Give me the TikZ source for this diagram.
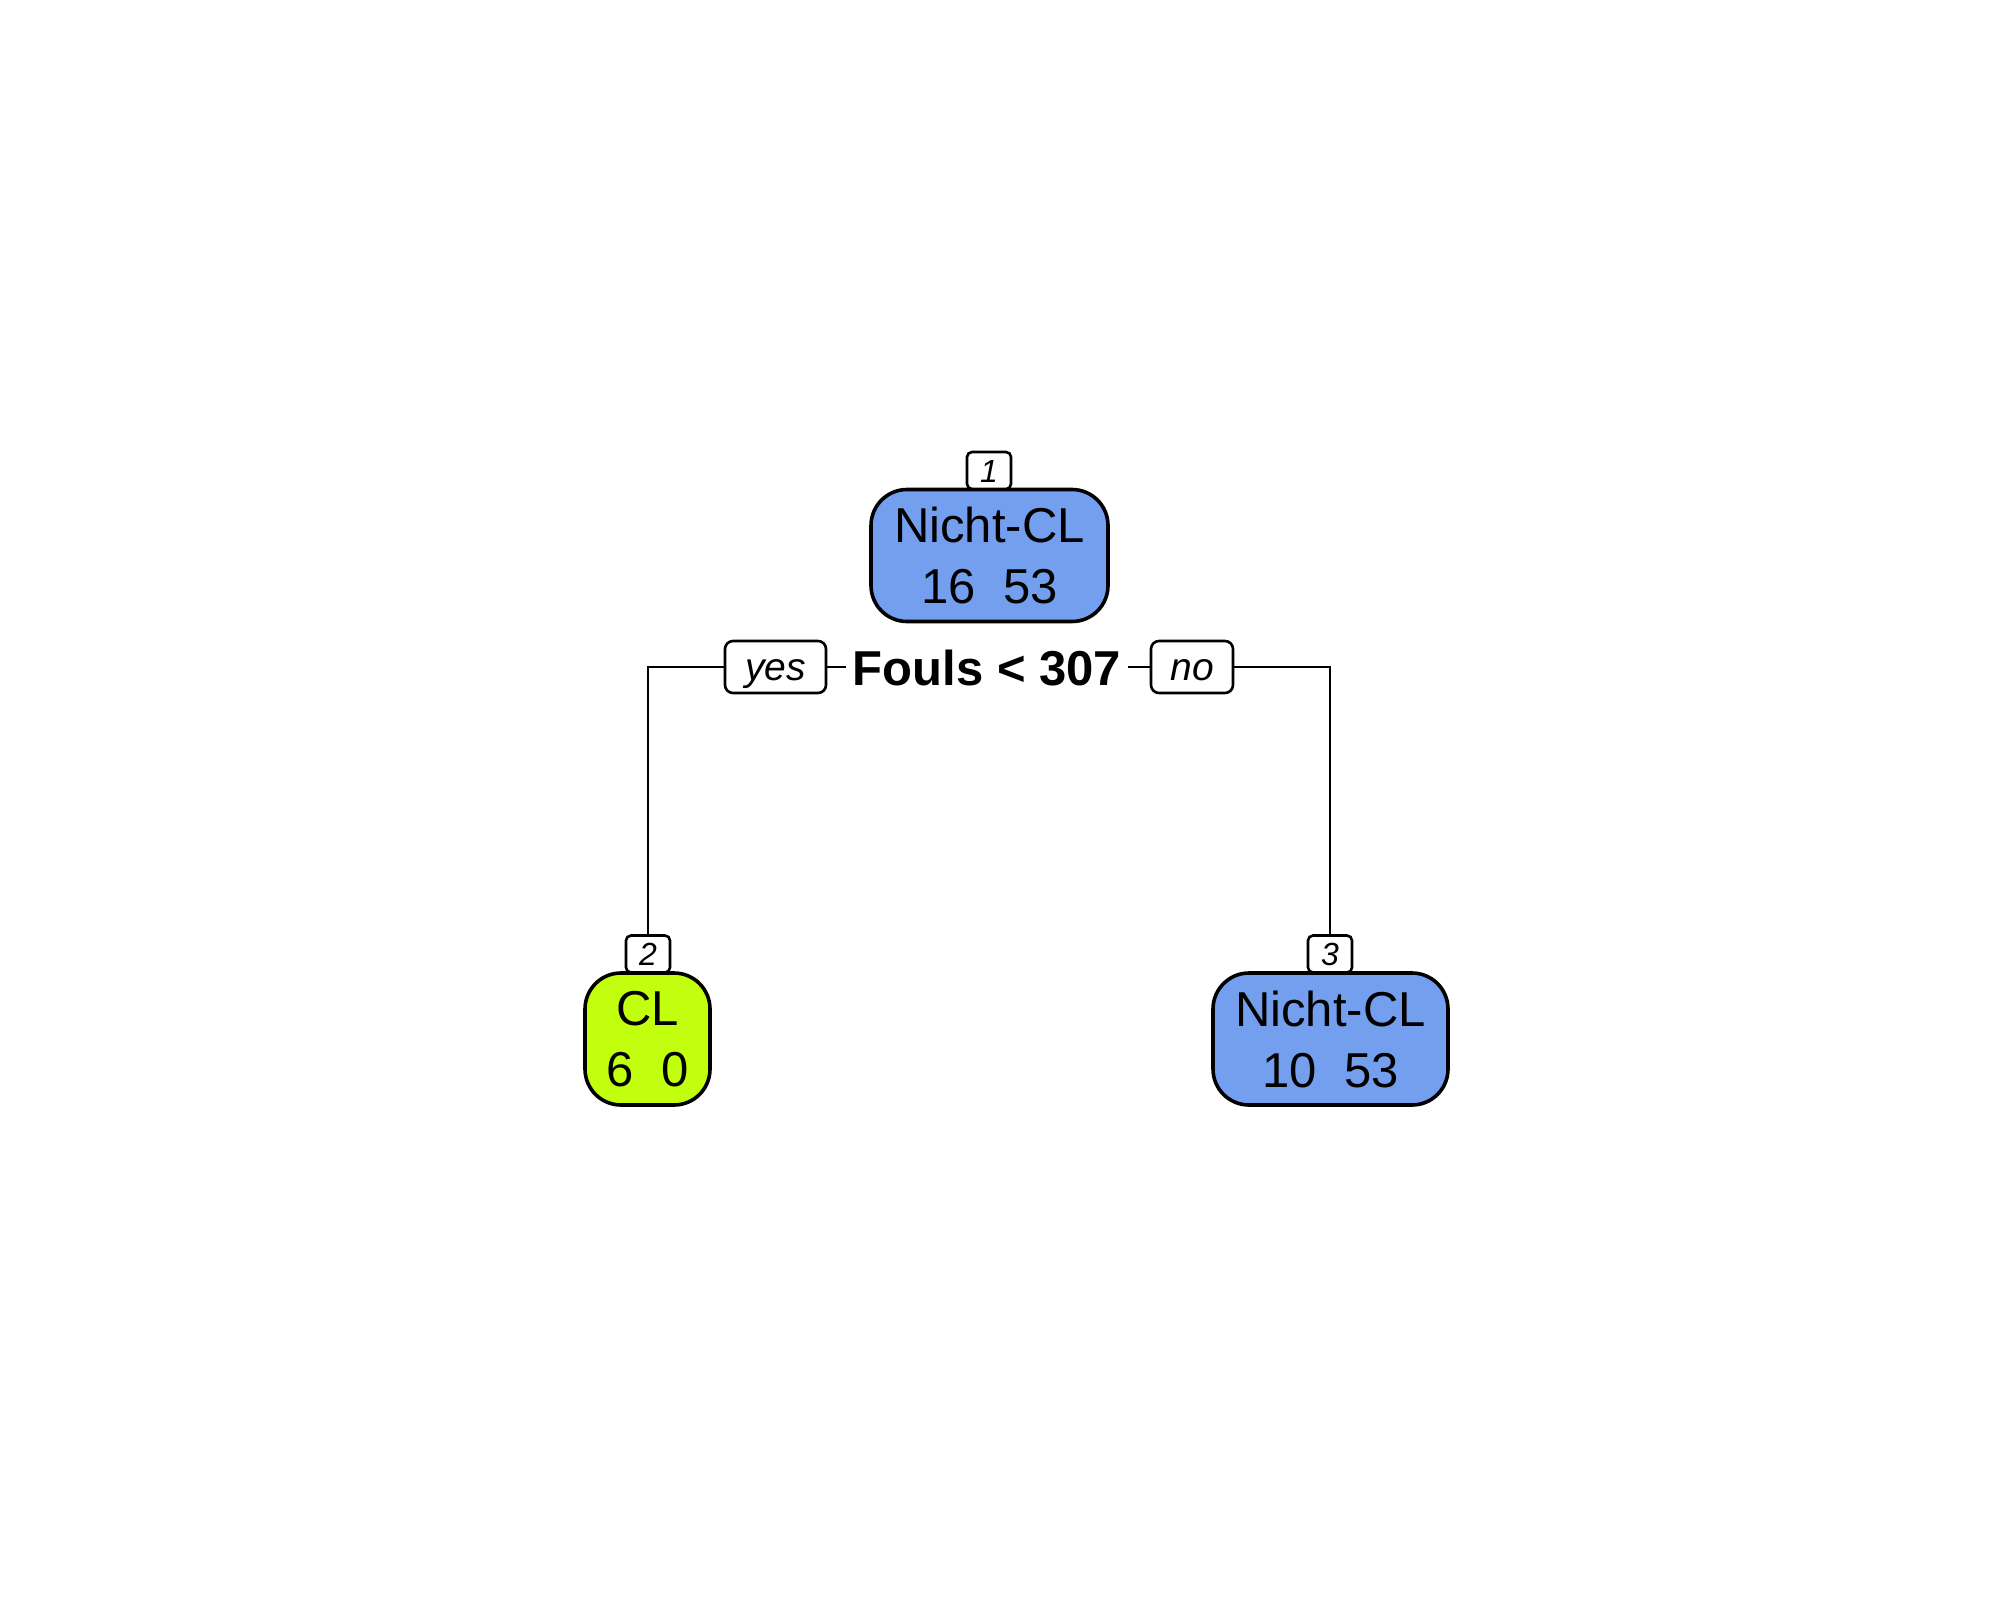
\documentclass[tikz,border=0pt]{standalone}
\usepackage{fontspec}
\setmainfont{Liberation Sans}
\definecolor{nodeblue}{RGB}{116,159,238}
\definecolor{nodegreen}{RGB}{194,255,15}
\begin{document}
\begin{tikzpicture}[x=0.5pt,y=-0.5pt,
  box/.style={draw=black, line width=1.8pt, rounded corners=18pt, inner sep=0pt,
    align=center, font=\fontsize{24.5pt}{30.5pt}\selectfont, minimum height=66pt},
  numlabel/.style={draw=black, fill=white, line width=1.3pt, rounded corners=2.5pt, inner sep=0pt,
    minimum width=22pt, minimum height=18.5pt, text height=11.5pt, text depth=0pt,
    font=\fontsize{16pt}{18pt}\selectfont\itshape},
  edgelabel/.style={draw=black, fill=white, line width=1.3pt, rounded corners=4pt, inner sep=0pt,
    minimum height=26pt, text height=13pt, text depth=0pt,
    font=\fontsize{19.5pt}{22pt}\selectfont\itshape},
  conn/.style={line width=1.3pt, draw=black}]
\useasboundingbox (0,0) rectangle (2000,1600);
\fill[white] (0,0) rectangle (2000,1600);
% nodes
\node[box, fill=nodeblue, minimum width=118.5pt] (n1) at (989.5,555.5) {Nicht-CL\\16\ \ 53};
\node[numlabel] (l1) at (989,470.5) {1};
\node[inner sep=3pt, font=\fontsize{24.5pt}{28pt}\selectfont\bfseries, anchor=base] (split) at (987,685) {Fouls < 307};
\node[edgelabel, minimum width=50.5pt] (yes) at (775.5,667) {yes};
\node[edgelabel, minimum width=41pt] (no) at (1192,667) {no};
\node[box, fill=nodegreen, minimum width=62.5pt] (n2) at (647.5,1039) {CL\\6\ \ 0};
\node[numlabel] (l2) at (648,954) {2};
\node[box, fill=nodeblue, minimum width=117.5pt] (n3) at (1330.5,1039) {Nicht-CL\\10\ \ 53};
\node[numlabel] (l3) at (1330,954) {3};
% connectors
\draw[conn] (yes.west) -| (l2.north);
\draw[conn] (yes.east) -- (split.west |- yes.east);
\draw[conn] (split.east |- no.west) -- (no.west);
\draw[conn] (no.east) -| (l3.north);
\end{tikzpicture}
\end{document}
